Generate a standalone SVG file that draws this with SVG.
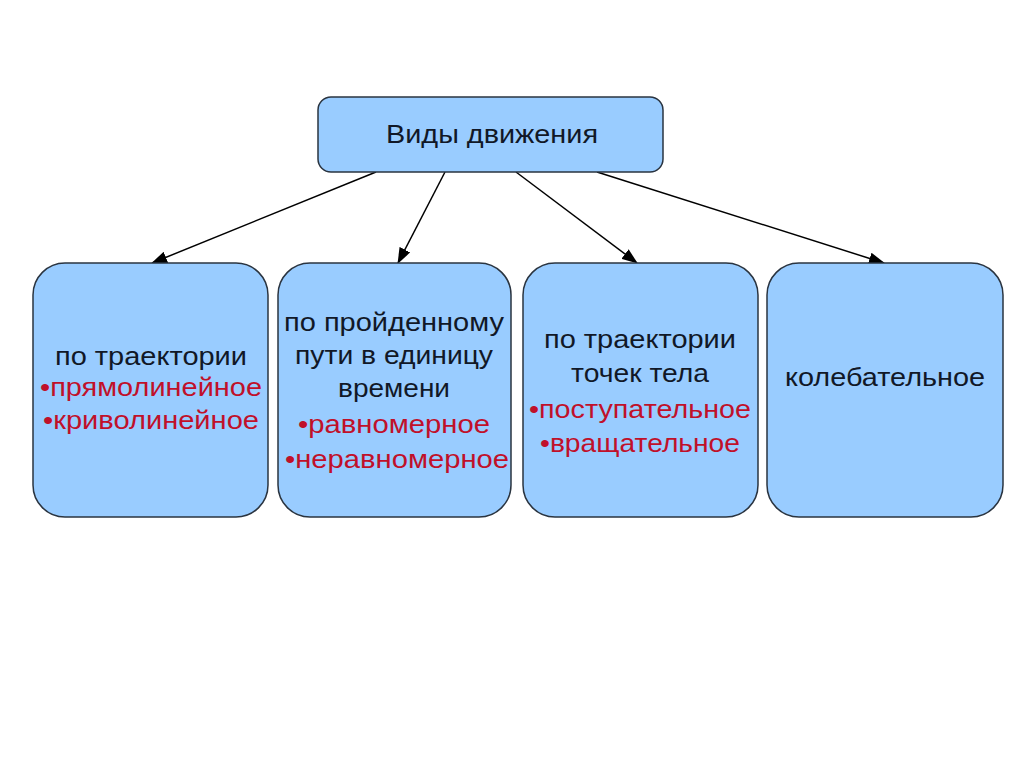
<svg xmlns="http://www.w3.org/2000/svg" width="1024" height="767" viewBox="0 0 1024 767">
<defs>
<marker id="ah" markerWidth="16" markerHeight="12" refX="15" refY="6" orient="auto" markerUnits="userSpaceOnUse">
<path d="M0,0 L16,6 L0,12 z" fill="#000"/>
</marker>
<style>
.box{fill:#99ccff;stroke:#2a3440;stroke-width:1.5}
.t{font-family:"Liberation Sans",Arial,sans-serif;font-size:26px;fill:#111827;text-anchor:middle}
.r{fill:#c0102a}
.c{stroke:#000;stroke-width:1.5;fill:none;marker-end:url(#ah)}
</style>
</defs>
<rect width="1024" height="767" fill="#fff"/>
<g id="connectors">
<line class="c" x1="376" y1="172" x2="152" y2="263"/>
<line class="c" x1="445" y1="172" x2="398" y2="263"/>
<line class="c" x1="516" y1="172" x2="637" y2="263"/>
<line class="c" x1="597" y1="172" x2="884" y2="263"/>
</g>
<g id="root">
<rect class="box" x="318" y="97" width="345" height="75" rx="13"/>
<text class="t" x="492" y="143" textLength="212" lengthAdjust="spacingAndGlyphs">Виды движения</text>
</g>
<g id="n1">
<rect class="box" x="33" y="263" width="235" height="254" rx="32"/>
<text class="t" x="151" y="365" textLength="192" lengthAdjust="spacingAndGlyphs">по траектории</text>
<text class="t r" x="151" y="396" textLength="222" lengthAdjust="spacingAndGlyphs">•прямолинейное</text>
<text class="t r" x="151" y="429" textLength="216" lengthAdjust="spacingAndGlyphs">•криволинейное</text>
</g>
<g id="n2">
<rect class="box" x="278" y="263" width="233" height="254" rx="32"/>
<text class="t" x="394" y="331" textLength="220" lengthAdjust="spacingAndGlyphs">по пройденному</text>
<text class="t" x="394" y="364" textLength="198" lengthAdjust="spacingAndGlyphs">пути в единицу</text>
<text class="t" x="394" y="397" textLength="112" lengthAdjust="spacingAndGlyphs">времени</text>
<text class="t r" x="394" y="433" textLength="192" lengthAdjust="spacingAndGlyphs">•равномерное</text>
<text class="t r" x="397" y="468" textLength="224" lengthAdjust="spacingAndGlyphs">•неравномерное</text>
</g>
<g id="n3">
<rect class="box" x="523" y="263" width="235" height="254" rx="32"/>
<text class="t" x="640" y="348" textLength="192" lengthAdjust="spacingAndGlyphs">по траектории</text>
<text class="t" x="640" y="382" textLength="138" lengthAdjust="spacingAndGlyphs">точек тела</text>
<text class="t r" x="640" y="418" textLength="222" lengthAdjust="spacingAndGlyphs">•поступательное</text>
<text class="t r" x="640" y="452" textLength="200" lengthAdjust="spacingAndGlyphs">•вращательное</text>
</g>
<g id="n4">
<rect class="box" x="767" y="263" width="236" height="254" rx="32"/>
<text class="t" x="885" y="386" textLength="200" lengthAdjust="spacingAndGlyphs">колебательное</text>
</g>
</svg>
